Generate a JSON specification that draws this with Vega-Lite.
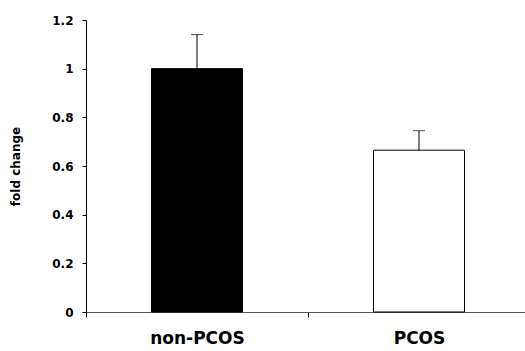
{
  "$schema": "https://vega.github.io/schema/vega-lite/v6.json",
  "autosize": {"type": "none"},
  "padding": {"left": 86, "top": 20, "right": 0, "bottom": 39},
  "width": 444,
  "height": 292,
  "background": "white",
  "config": {"view": {"stroke": null}},
  "data": {
    "values": [
      {"group": "non-PCOS", "value": 1.0, "upper": 1.14},
      {"group": "PCOS", "value": 0.665, "upper": 0.745}
    ]
  },
  "encoding": {
    "x": {
      "field": "group",
      "type": "nominal",
      "sort": ["non-PCOS", "PCOS"],
      "scale": {"paddingInner": 0, "paddingOuter": 0},
      "axis": {
        "title": null,
        "labelAngle": 0,
        "tickBand": "extent",
        "domainColor": "#555555",
        "tickColor": "#000000",
        "tickSize": 5,
        "labelFont": "DejaVu Sans",
        "labelFontWeight": "bold",
        "labelFontSize": 17,
        "labelColor": "#000000",
        "labelPadding": 13
      }
    }
  },
  "layer": [
    {
      "mark": {"type": "bar", "width": {"band": 0.41}, "stroke": "#000000", "strokeWidth": 1},
      "encoding": {
        "y": {
          "field": "value",
          "type": "quantitative",
          "scale": {"domain": [0, 1.2], "nice": false},
          "axis": {
            "title": "fold change",
            "values": [0, 0.2, 0.4, 0.6, 0.8, 1, 1.2],
            "format": "~g",
            "grid": false,
            "domainColor": "#000000",
            "tickColor": "#000000",
            "tickSize": 4,
            "labelFont": "DejaVu Sans",
            "labelFontWeight": "bold",
            "labelFontSize": 12,
            "labelColor": "#000000",
            "labelPadding": 9,
            "titleFont": "DejaVu Sans",
            "titleFontWeight": "bold",
            "titleFontSize": 12,
            "titleColor": "#000000",
            "titlePadding": 29
          }
        },
        "fill": {
          "field": "group",
          "type": "nominal",
          "scale": {"domain": ["non-PCOS", "PCOS"], "range": ["#000000", "#ffffff"]},
          "legend": null
        }
      }
    },
    {
      "mark": {"type": "rule", "color": "#000000", "strokeWidth": 1},
      "encoding": {
        "y": {"field": "value", "type": "quantitative"},
        "y2": {"field": "upper"}
      }
    },
    {
      "mark": {"type": "tick", "color": "#000000", "size": 12, "thickness": 1},
      "encoding": {
        "y": {"field": "upper", "type": "quantitative"}
      }
    }
  ]
}
